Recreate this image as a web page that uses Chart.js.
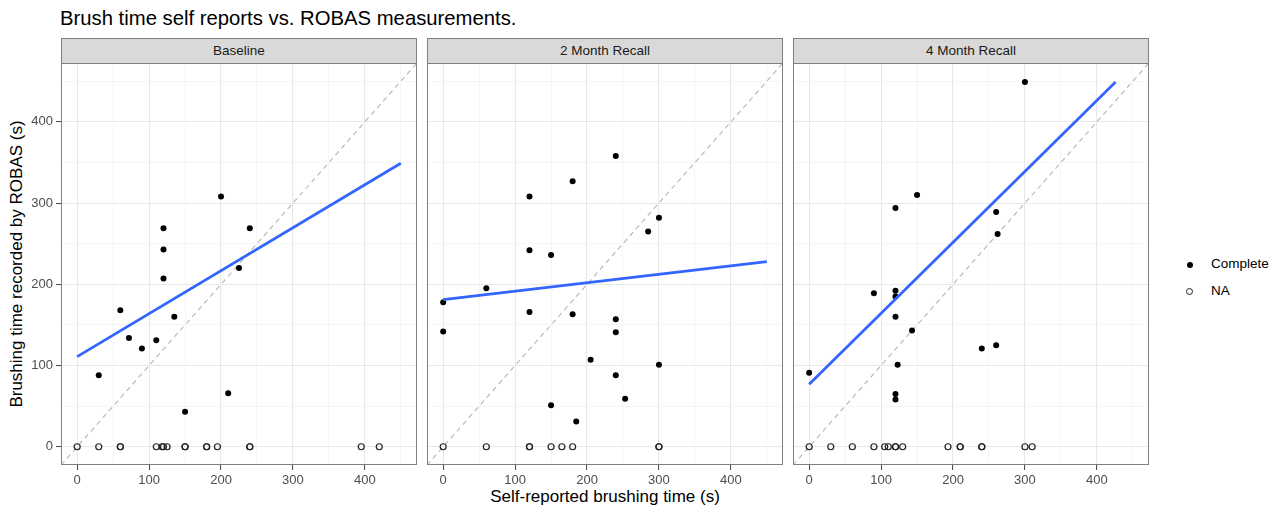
<!DOCTYPE html>
<html>
<head>
<meta charset="utf-8">
<script src="https://cdn.jsdelivr.net/npm/chart.js@4.4.1/dist/chart.umd.min.js"></script>
<style>
  body { margin: 0; background: #fff; font-family: "Liberation Sans", Arial, sans-serif; }
  #wrap { position: relative; width: 1277px; height: 509px; overflow: hidden; }
  canvas { position: absolute; }
  .strip { position: absolute; top: 38px; height: 26px; width: 356px; box-sizing: border-box;
           background: #d9d9d9; border: 1px solid #7f7f7f; text-align: center;
           font-size: 13.5px; line-height: 24px; color: #1a1a1a; }
  .txt { position: absolute; white-space: nowrap; }
  .dot { position: absolute; border-radius: 50%; box-sizing: border-box; }
</style>
</head>
<body>
<div id="wrap">
  <div class="txt" style="left:60px; top:7px; font-size:20.3px; line-height:22px; color:#000;">Brush time self reports vs. ROBAS measurements.</div>
  <div class="txt" style="left:-183px; top:254px; width:400px; text-align:center; font-size:17px; line-height:20px; transform:rotate(-90deg);">Brushing time recorded by ROBAS (s)</div>
  <div class="txt" style="left:61px; width:1088px; top:487px; text-align:center; font-size:17px; line-height:20px;">Self-reported brushing time (s)</div>
  <div class="dot" style="left:1187px; top:262px; width:6px; height:6px; background:#000;"></div>
  <div class="txt" style="left:1211px; top:256px; font-size:13.5px; line-height:16px;">Complete</div>
  <div class="dot" style="left:1186px; top:288px; width:7px; height:7px; border:1.2px solid #222;"></div>
  <div class="txt" style="left:1211px; top:283px; font-size:13.5px; line-height:16px;">NA</div>
</div>
<script>
// Valeurs (secondes)
const panelNames = ['Baseline', '2 Month Recall', '4 Month Recall'];
const axisMin = -22.5, axisMax = 472.5;
const gridVals = [0, 50, 100, 150, 200, 250, 300, 350, 400, 450];
const tickLabels = [0, 100, 200, 300, 400];
const naLevel = 0;
const diagX = [-22.5, 472.5];

// Baseline
const baseCompleteX = [30, 60, 72, 90, 110, 120, 120, 120, 135, 150, 200, 210, 225, 240];
const baseCompleteY = [88, 168, 134, 121, 131, 269, 243, 207, 160, 43, 308, 66, 220, 269];
const baseNaX = [0, 30, 60, 60, 110, 118, 120, 125, 150, 150, 180, 180, 195, 240, 240, 395, 420];
const baseFitX = [0, 450];
const baseFitY = [111, 349];

// 2 Month Recall
const m2CompleteX = [0, 0, 60, 120, 120, 120, 150, 150, 180, 180, 185, 205, 240, 240, 240, 240, 253, 285, 300, 300];
const m2CompleteY = [178, 142, 195, 308, 242, 166, 236, 51, 327, 163, 31, 107, 358, 157, 141, 88, 59, 265, 282, 101];
const m2NaX = [0, 60, 120, 120, 150, 165, 180, 300, 300];
const m2FitX = [0, 450];
const m2FitY = [181, 228];

// 4 Month Recall
const m4CompleteX = [0, 90, 120, 120, 120, 120, 120, 120, 123, 143, 150, 240, 260, 260, 262, 300];
const m4CompleteY = [91, 189, 294, 192, 185, 160, 65, 58, 101, 143, 310, 121, 125, 289, 262, 449];
const m4NaX = [0, 30, 60, 90, 105, 110, 120, 120, 130, 193, 210, 210, 240, 240, 300, 310];
const m4FitX = [0, 426];
const m4FitY = [77, 449];

const panels = [
  { cx: baseCompleteX, cy: baseCompleteY, na: baseNaX, fx: baseFitX, fy: baseFitY },
  { cx: m2CompleteX, cy: m2CompleteY, na: m2NaX, fx: m2FitX, fy: m2FitY },
  { cx: m4CompleteX, cy: m4CompleteY, na: m4NaX, fx: m4FitX, fy: m4FitY }
];

const panelLeft = [61, 427, 793];
const panelWidth = 356;
const font = { family: '"Liberation Sans", Arial, sans-serif', size: 13 };

// cadre du panneau
const panelBorder = {
  id: 'panelBorder',
  afterDraw(chart) {
    const { ctx, chartArea: a } = chart;
    ctx.save();
    ctx.strokeStyle = '#7f7f7f';
    ctx.lineWidth = 1;
    ctx.strokeRect(a.left + 0.5, a.top + 0.5, a.width - 1, a.height - 1);
    ctx.restore();
  }
};

const isMajor = c => c.tick && tickLabels.includes(c.tick.value);

function gridOpts(withTicks) {
  return {
    color: c => isMajor(c) ? '#e8e8e8' : '#f1f1f1',
    lineWidth: c => isMajor(c) ? 1.1 : 0.7,
    drawTicks: withTicks,
    tickLength: 5,
    tickColor: c => isMajor(c) ? '#444444' : 'rgba(0,0,0,0)',
    tickWidth: 1
  };
}

const wrap = document.getElementById('wrap');

panels.forEach((p, i) => {
  const yAxisW = i === 0 ? 61 : 0;

  const strip = document.createElement('div');
  strip.className = 'strip';
  strip.style.left = panelLeft[i] + 'px';
  strip.textContent = panelNames[i];
  wrap.appendChild(strip);

  const canvas = document.createElement('canvas');
  canvas.width = panelWidth + yAxisW;
  canvas.height = 446;
  canvas.style.left = (panelLeft[i] - yAxisW) + 'px';
  canvas.style.top = '63px';
  wrap.appendChild(canvas);

  new Chart(canvas.getContext('2d'), {
    type: 'scatter',
    data: {
      datasets: [
        {
          label: 'fit',
          type: 'line',
          data: p.fx.map((x, k) => ({ x: x, y: p.fy[k] })),
          borderColor: '#3366FF',
          borderWidth: 2.8,
          pointRadius: 0,
          fill: false,
          order: 0
        },
        {
          label: 'Complete',
          data: p.cx.map((x, k) => ({ x: x, y: p.cy[k] })),
          backgroundColor: '#000',
          borderWidth: 0,
          pointRadius: 3,
          order: 1
        },
        {
          label: 'NA',
          data: p.na.map(x => ({ x: x, y: naLevel })),
          backgroundColor: 'rgba(255,255,255,0)',
          borderColor: '#222',
          borderWidth: 1.2,
          pointRadius: 3,
          order: 2
        },
        {
          label: 'y = x',
          type: 'line',
          data: diagX.map(v => ({ x: v, y: v })),
          borderColor: '#b5b5b5',
          borderWidth: 1.1,
          borderDash: [5, 4],
          pointRadius: 0,
          fill: false,
          order: 3
        }
      ]
    },
    options: {
      responsive: false,
      devicePixelRatio: 1,
      animation: false,
      events: [],
      layout: { padding: 0, autoPadding: false },
      plugins: { legend: { display: false }, tooltip: { enabled: false } },
      scales: {
        x: {
          type: 'linear',
          min: axisMin,
          max: axisMax,
          afterBuildTicks: s => { s.ticks = gridVals.map(v => ({ value: v })); },
          afterFit: s => { s.height = 44; s.paddingLeft = 0; s.paddingRight = 0; },
          border: { display: false },
          grid: gridOpts(true),
          ticks: {
            callback: v => tickLabels.includes(v) ? String(v) : '',
            color: '#4d4d4d',
            font: font,
            padding: 3,
            maxRotation: 0,
            autoSkip: false
          }
        },
        y: {
          type: 'linear',
          min: axisMin,
          max: axisMax,
          afterBuildTicks: s => { s.ticks = gridVals.map(v => ({ value: v })); },
          afterFit: s => { s.width = yAxisW; s.paddingTop = 0; s.paddingBottom = 0; },
          border: { display: false },
          grid: gridOpts(i === 0),
          ticks: {
            display: i === 0,
            callback: v => tickLabels.includes(v) ? String(v) : '',
            color: '#4d4d4d',
            font: font,
            padding: 3,
            autoSkip: false
          }
        }
      }
    },
    plugins: [panelBorder]
  });
});
</script>
</body>
</html>
